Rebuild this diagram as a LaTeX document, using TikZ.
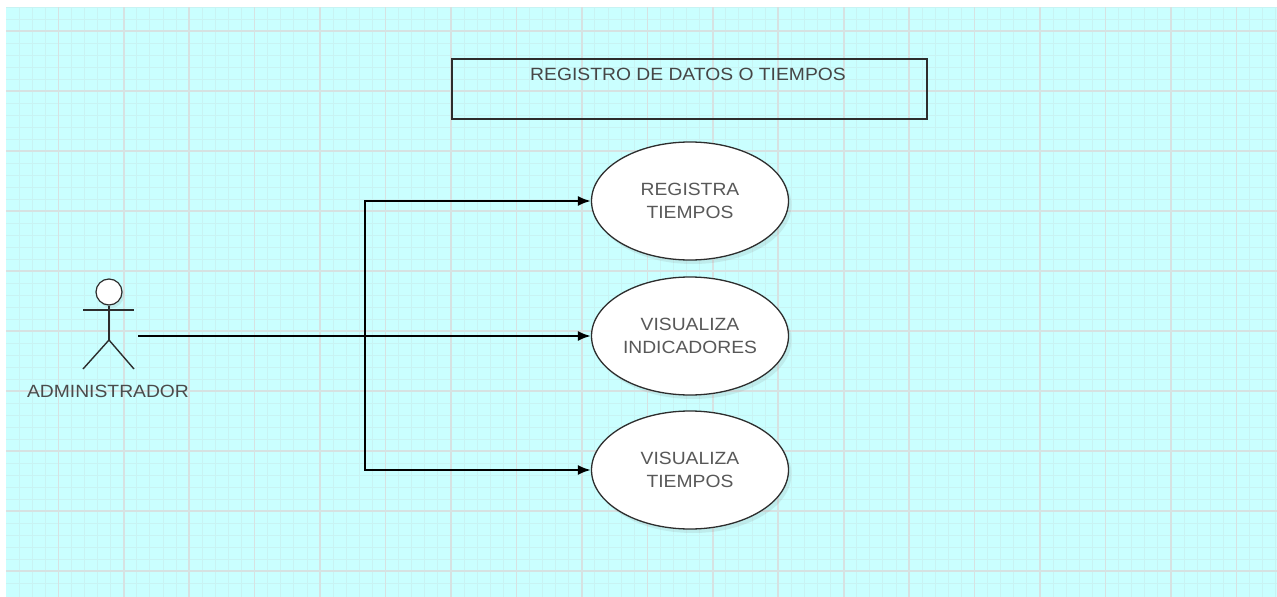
\documentclass[tikz,border=0pt]{standalone}
\usepackage{fontspec}
\setmainfont{Liberation Sans}[FakeStretch=1.09]
\usetikzlibrary{arrows.meta,shapes.geometric,shadows}
\definecolor{bgcyan}{RGB}{202,255,255}
\definecolor{gridmajor}{RGB}{214,226,226}
\definecolor{gridminor}{RGB}{200,243,243}
\definecolor{txtgray}{RGB}{88,88,88}
\definecolor{linegray}{RGB}{45,45,45}
\tikzset{
  majorgrid/.style={draw=gridmajor, line width=1.6pt},
  minorgrid/.style={draw=gridminor, line width=1pt},
  usecase/.style={ellipse, draw=linegray, line width=1.3pt, fill=white,
    minimum width=197pt, minimum height=118pt, inner sep=0pt, align=center,
    text=txtgray, font=\fontsize{17.7}{23.5}\selectfont,
    drop shadow={opacity=0.15, shadow xshift=3pt, shadow yshift=-4pt}},
  titlebox/.style={rectangle, draw=linegray, line width=1.4pt,
    minimum width=475pt, minimum height=60pt, inner sep=0pt},
  titletext/.style={text=txtgray!80!black, font=\fontsize{17.7}{21}\selectfont, inner sep=0pt},
  actorlabel/.style={text=txtgray!85!black, font=\fontsize{17.7}{21}\selectfont, inner sep=0pt},
  actorline/.style={draw=linegray, line width=1.4pt},
  conn/.style={draw=black, line width=2pt, -{Latex[length=13pt,width=10pt]}},
}
\begin{document}
\begin{tikzpicture}[x=1pt,y=-1pt]
\useasboundingbox (0,0) rectangle (1277,597);
\fill[white] (0,0) rectangle (1277,597);
\fill[bgcyan] (6,7) rectangle (1277,597);
\begin{scope}
  \clip (6,7) rectangle (1277,597);
  \foreach \i in {0,...,99} \draw[minorgrid] ({-7.15+13.09*\i},0) -- ++(0,597);
  \foreach \j in {0,...,51} \draw[minorgrid] (0,{-29+12*\j}) -- ++(1277,0);
  \foreach \i in {-1,...,19} \draw[majorgrid] ({58.3+65.45*\i},0) -- ++(0,597);
  \foreach \j in {-1,...,10} \draw[majorgrid] (0,{31+60*\j}) -- ++(1277,0);
\end{scope}

% title box
\node[titlebox] (tb) at (689.5,89) {};
\node[titletext] (tt) at (688,74) {REGISTRO DE DATOS O TIEMPOS};

% use cases
\node[usecase] (u1) at (690,201) {REGISTRA\\TIEMPOS};
\node[usecase] (u2) at (690,336) {VISUALIZA\\INDICADORES};
\node[usecase] (u3) at (690,470) {VISUALIZA\\TIEMPOS};

% actor
\node[circle, draw=linegray, fill=white, line width=1.2pt, minimum size=26pt, inner sep=0pt,
  drop shadow={opacity=0.15, shadow xshift=2pt, shadow yshift=-3pt}] (head) at (109,292) {};
\coordinate (hip) at (109,340);
\coordinate (larm) at (83,310);
\coordinate (rarm) at (134,310);
\coordinate (lfoot) at (83,369);
\coordinate (rfoot) at (134,369);
\draw[actorline] (head.south) -- (hip);
\draw[actorline] (larm) -- (rarm);
\draw[actorline] (lfoot) -- (hip) -- (rfoot);
\node[actorlabel] (admin) at (108,391) {ADMINISTRADOR};

% connectors
\coordinate (hand) at (138,336);
\coordinate (branch) at (365,336);
\draw[conn] (hand) -- (u2.west);
\draw[conn] (branch) |- (u1.west);
\draw[conn] (branch) |- (u3.west);
\end{tikzpicture}
\end{document}
